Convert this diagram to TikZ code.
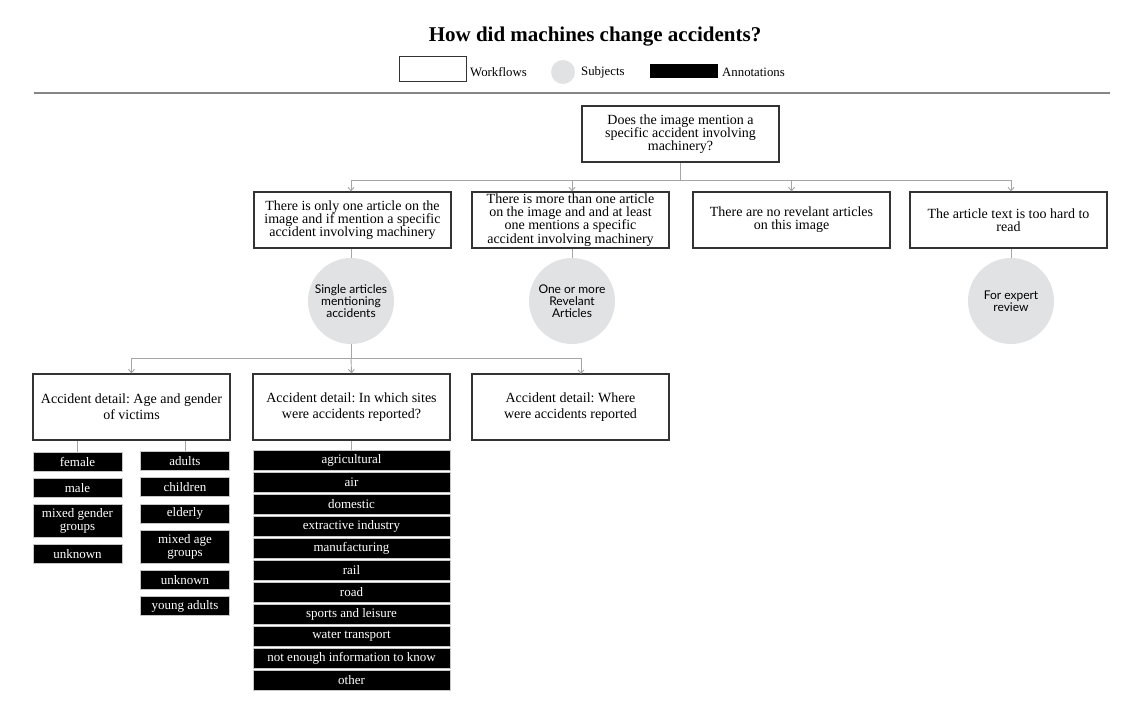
\documentclass[tikz,border=0pt]{standalone}
\usepackage{fontspec}
\setmainfont{Liberation Serif}
\newfontfamily\subjfont{Lato}
\frenchspacing
\usetikzlibrary{positioning,arrows.meta}
\definecolor{subjgray}{HTML}{E1E2E4}
\definecolor{conngray}{HTML}{A5A5A5}
\definecolor{rulegray}{HTML}{858585}
\definecolor{boxline}{HTML}{333333}
\tikzset{
  wfbox/.style={draw=boxline, line width=1.1pt, fill=white, minimum width=197, minimum height=56,
    inner sep=0pt, align=center, font=\fontsize{14}{13.2}\selectfont},
  detbox/.style={wfbox, minimum height=66, font=\fontsize{14}{16}\selectfont},
  subj/.style={circle, fill=subjgray, minimum size=86, inner sep=0pt, align=center,
    font=\subjfont\fontsize{12}{12}\selectfont},
  ann/.style={fill=black, draw=gray!45, line width=0.7pt, text=white, minimum height=19,
    inner sep=0pt, align=center, font=\fontsize{13}{13}\selectfont},
  conn/.style={draw=conngray, line width=0.9pt},
  arr/.style={conn, -{Straight Barb[length=3.5pt,width=6pt]}},
  legtext/.style={anchor=west, inner sep=0pt, font=\fontsize{12.8}{14}\selectfont}
}
\begin{document}
\begin{tikzpicture}[x=1pt,y=-1pt]
\useasboundingbox (0,0) rectangle (1142,711);
% title and legend
\node[font=\fontsize{21}{24}\selectfont\bfseries] (title) at (595,37) {How did machines change accidents?};
\node[draw=boxline, line width=1pt, minimum width=67, minimum height=25, inner sep=0pt] (legwf) at (432.5,69.5) {};
\node[legtext] (legwft) at (470,72) {Workflows};
\node[circle, fill=subjgray, minimum size=24, inner sep=0pt] (legsub) at (563,72) {};
\node[legtext] (legsubt) at (581,72) {Subjects};
\node[fill=black, minimum width=68, minimum height=14, inner sep=0pt] (legann) at (684,71) {};
\node[legtext] (leganntt) at (722,72) {Annotations};
% rule under the legend
\draw[rulegray, line width=1.6pt] (34,93) -- (1110,93);
% question
\node[wfbox] (question) at (680.5,134) {Does the image mention a\\specific accident involving\\machinery?};
% answers
\node[wfbox] (onlyone) at (352.5,220) {There is only one article on the\\image and if mention a specific\\accident involving machinery};
\node[wfbox] (morethan) at (570.5,220) {There is more than one article\\on the image and and at least\\one mentions a specific\\accident involving machinery};
\node[wfbox] (norelevant) at (791.5,220) {There are no revelant articles\\on this image};
\node[wfbox] (toohard) at (1008.5,220) {The article text is too hard to\\read};
% subjects
\node[subj] (single) at (351,301) {Single articles\\mentioning\\accidents};
\node[subj] (oneormore) at (572,301) {One or more\\Revelant\\Articles};
\node[subj] (expert) at (1011,301) {For expert\\review};
% question to answers
\draw[conn] (question.south) -- ++(0,18) coordinate (split1);
\draw[arr] (split1) -| (single.north |- onlyone.north);
\draw[arr] (split1) -| (oneormore.north |- morethan.north);
\draw[arr] (split1) -| (norelevant.north);
\draw[arr] (split1) -| (expert.north |- toohard.north);
% answers to subjects
\draw[conn] (single.north |- onlyone.south) -- (single.north);
\draw[conn] (oneormore.north |- morethan.south) -- (oneormore.north);
\draw[conn] (expert.north |- toohard.south) -- (expert.north);
% details
\node[detbox] (detage) at (131.5,407) {Accident detail: Age and gender\\of victims};
\node[detbox] (detsite) at (351.5,407) {Accident detail: In which sites\\were accidents reported?};
\node[detbox] (detwhere) at (570.5,407) {Accident detail: Where\\were accidents reported};
\coordinate (wherein) at (581,374);
\draw[conn] (single.south) -- ++(0,14) coordinate (split2);
\draw[arr] (split2) -| (detage.north);
\draw[arr] (split2) -- (detsite.north);
\draw[arr] (split2) -| (wherein);
% annotations: gender
\node[ann, minimum width=89] (female) at (77.5,461.5) {female};
\node[ann, minimum width=89, below=6.5pt of female] (male) {male};
\node[ann, minimum width=89, minimum height=33, below=6.5pt of male] (mixedgender) {mixed gender\\groups};
\node[ann, minimum width=89, below=6.5pt of mixedgender] (unknowngender) {unknown};
% annotations: age
\node[ann, minimum width=89] (adults) at (185,461) {adults};
\node[ann, minimum width=89, below=6.5pt of adults] (children) {children};
\node[ann, minimum width=89, below=6.5pt of children] (elderly) {elderly};
\node[ann, minimum width=89, minimum height=33, below=6.5pt of elderly] (mixedage) {mixed age\\groups};
\node[ann, minimum width=89, below=6.5pt of mixedage] (unknownage) {unknown};
\node[ann, minimum width=89, below=6.5pt of unknownage] (youngadults) {young adults};
\draw[conn] (female.north |- detage.south) -- (female.north);
\draw[conn] (adults.north |- detage.south) -- (adults.north);
% annotations: sites
\foreach \t [count=\i] in {agricultural, air, domestic, extractive industry, manufacturing, rail, road,
  sports and leisure, water transport, not enough information to know, other}
  \node[ann, minimum width=197, minimum height=20] (site\i) at (351.5,{460.5+22*(\i-1)}) {\t};
\draw[conn] (detsite.south) -- (site1.north);
\end{tikzpicture}
\end{document}
